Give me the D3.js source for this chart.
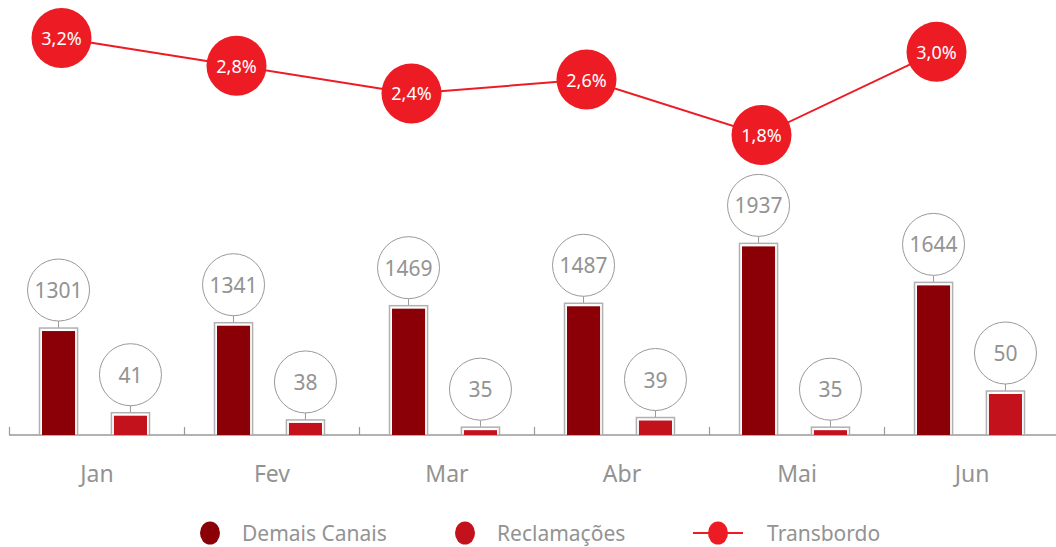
<!DOCTYPE html>
<html lang="pt">
    <head>
        <meta charset="utf-8">
        <title>Demais Canais, Reclamações e Transbordo</title>
        <script src="https://d3js.org/d3.v7.min.js"></script>
        <style type="text/css">
            body { margin: 0; background: #fff; }
            text { font-family: "Noto Sans", "Open Sans", sans-serif; }
        </style>
    </head>
    <body>
        <script type="text/javascript">
        //Data
        const months = ["Jan", "Fev", "Mar", "Abr", "Mai", "Jun"];
        const demais = [1301, 1341, 1469, 1487, 1937, 1644];
        const reclamacoes = [41, 38, 35, 39, 35, 50];
        const transbordo = [3.2, 2.8, 2.4, 2.6, 1.8, 3.0];
        const series = ["Demais Canais", "Reclamações"];

        //Constants
        const w = 1056;
        const h = 547;
        const baseline = 435;
        const darkRed = "#8a0006";
        const midRed = "#c3121c";
        const lineRed = "#ed1c24";
        const grey = "#939393";

        const svg = d3.select("body")
                      .append("svg")
                      .attr("width", w)
                      .attr("height", h);

        //Scales
        const x = d3.scaleBand()
                    .domain(months)
                    .range([9.5, 9.5 + 175 * 6]);

        const x1 = d3.scaleBand()
                     .domain(series)
                     .range([32.5, 137.5])
                     .paddingInner(0.54);

        const yDemais = d3.scaleLinear()
                          .domain([520, 2000])
                          .range([baseline, 238]);

        const yRecl = d3.scaleLinear()
                        .domain([33, 50])
                        .range([baseline, 394]);

        const yLine = d3.scaleLinear()
                        .domain([1.8, 3.2])
                        .range([135, 38]);

        //Axis
        svg.append("line")
           .attr("x1", 9)
           .attr("x2", w)
           .attr("y1", baseline)
           .attr("y2", baseline)
           .attr("stroke", "#999")
           .attr("stroke-width", 1.5);

        svg.selectAll(".tick")
           .data(months)
           .enter()
           .append("line")
           .attr("class", "tick")
           .attr("x1", d => x(d))
           .attr("x2", d => x(d))
           .attr("y1", baseline - 8)
           .attr("y2", baseline)
           .attr("stroke", "#999")
           .attr("stroke-width", 1.2);

        svg.selectAll(".month")
           .data(months)
           .enter()
           .append("text")
           .attr("class", "month")
           .attr("x", d => x(d) + x.bandwidth() / 2)
           .attr("y", 476)
           .attr("text-anchor", "middle")
           .attr("dominant-baseline", "middle")
           .attr("font-size", "23px")
           .attr("fill", grey)
           .text(d => d);

        //Bars with bubble labels
        const barData = [];
        months.forEach((m, i) => {
            barData.push({ month: m, s: series[0], v: demais[i], y: yDemais(demais[i]), color: darkRed });
            barData.push({ month: m, s: series[1], v: reclamacoes[i], y: yRecl(reclamacoes[i]), color: midRed });
        });

        const bw = x1.bandwidth();
        const g = svg.selectAll(".bar")
                     .data(barData)
                     .enter()
                     .append("g")
                     .attr("class", "bar")
                     .attr("transform", d => "translate(" + (x(d.month) + x1(d.s)) + ",0)");

        g.append("rect")
         .attr("x", -2.5)
         .attr("y", d => d.y - 3)
         .attr("width", bw + 5)
         .attr("height", d => baseline - d.y + 3)
         .attr("fill", "#fff")
         .attr("stroke", "#b0b0b0")
         .attr("stroke-width", 1.5);

        g.append("rect")
         .attr("x", 0)
         .attr("y", d => d.y)
         .attr("width", bw)
         .attr("height", d => baseline - d.y)
         .attr("fill", d => d.color);

        g.append("line")
         .attr("x1", bw / 2)
         .attr("x2", bw / 2)
         .attr("y1", d => d.y - 3.5)
         .attr("y2", d => d.y - 10)
         .attr("stroke", "#999")
         .attr("stroke-width", 1);

        g.append("circle")
         .attr("cx", bw / 2)
         .attr("cy", d => d.y - 41)
         .attr("r", 31)
         .attr("fill", "#fff")
         .attr("stroke", "#999")
         .attr("stroke-width", 1);

        g.append("text")
         .attr("x", bw / 2)
         .attr("y", d => d.y - 41)
         .attr("text-anchor", "middle")
         .attr("dominant-baseline", "central")
         .attr("font-size", "21px")
         .attr("fill", grey)
         .text(d => d.v);

        //Transbordo line
        const lineX = (m) => x(m) + 52;
        const line = d3.line()
                       .x((d, i) => lineX(months[i]))
                       .y(d => yLine(d));

        svg.append("path")
           .datum(transbordo)
           .attr("d", line)
           .attr("fill", "none")
           .attr("stroke", lineRed)
           .attr("stroke-width", 2);

        svg.selectAll(".dot")
           .data(transbordo)
           .enter()
           .append("circle")
           .attr("class", "dot")
           .attr("cx", (d, i) => lineX(months[i]))
           .attr("cy", d => yLine(d))
           .attr("r", 30)
           .attr("fill", lineRed);

        svg.selectAll(".pct")
           .data(transbordo)
           .enter()
           .append("text")
           .attr("class", "pct")
           .attr("x", (d, i) => lineX(months[i]))
           .attr("y", d => yLine(d))
           .attr("text-anchor", "middle")
           .attr("dominant-baseline", "central")
           .attr("font-size", "18px")
           .attr("fill", "#fff")
           .text(d => d.toFixed(1).replace(".", ",") + "%");

        //Legend
        const legend = svg.append("g");
        legend.append("ellipse")
              .attr("cx", 210).attr("cy", 533).attr("rx", 10).attr("ry", 11.5)
              .attr("fill", darkRed);
        legend.append("text")
              .attr("x", 242).attr("y", 533)
              .attr("dominant-baseline", "central")
              .attr("font-size", "21px").attr("fill", grey)
              .text("Demais Canais");
        legend.append("ellipse")
              .attr("cx", 465).attr("cy", 533).attr("rx", 10).attr("ry", 11.5)
              .attr("fill", midRed);
        legend.append("text")
              .attr("x", 497).attr("y", 533)
              .attr("dominant-baseline", "central")
              .attr("font-size", "21px").attr("fill", grey)
              .text("Reclamações");
        legend.append("line")
              .attr("x1", 693).attr("x2", 743).attr("y1", 533).attr("y2", 533)
              .attr("stroke", lineRed).attr("stroke-width", 2);
        legend.append("ellipse")
              .attr("cx", 718).attr("cy", 533).attr("rx", 10).attr("ry", 11.5)
              .attr("fill", lineRed);
        legend.append("text")
              .attr("x", 767).attr("y", 533)
              .attr("dominant-baseline", "central")
              .attr("font-size", "21px").attr("fill", grey)
              .text("Transbordo");
        </script>
    </body>
</html>
